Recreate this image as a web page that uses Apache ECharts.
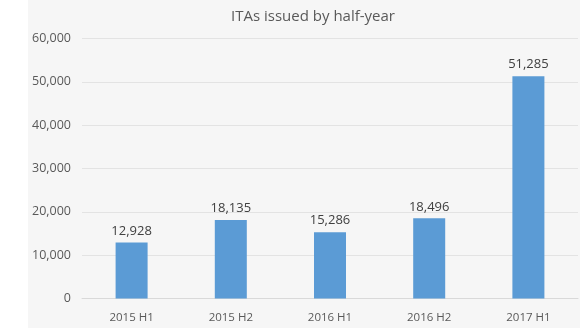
<!DOCTYPE html>
<html><head><meta charset="utf-8">
<script src="https://cdn.jsdelivr.net/npm/echarts@6/dist/echarts.min.js"></script>
<style>html,body{margin:0;padding:0;background:#fff}#c{width:580px;height:336px}</style>
</head><body><div id="c"></div>
<script>
const categories = ['2015 H1','2015 H2','2016 H1','2016 H2','2017 H1'];
const itas = [12928, 18135, 15286, 18496, 51285];
const yTicks = [0, 10000, 20000, 30000, 40000, 50000, 60000];

const fmt = v => v.toLocaleString('en-US');
const chart = echarts.init(document.getElementById('c'), null, {renderer:'canvas'});
chart.setOption({
  animation: false,
  backgroundColor: '#ffffff',
  textStyle: {fontFamily: 'Open Sans'},
  graphic: [{type:'rect', z:-10, silent:true, shape:{x:28, y:0, width:552, height:328}, style:{fill:'#f6f6f6'}}],
  title: {text:'ITAs issued by half-year', left:308, textAlign:'center', top:4,
    textStyle:{fontSize:15, fontWeight:'normal', color:'#595959', fontFamily:'Open Sans'}},
  grid: {left:82, right:2, top:38.5, bottom:37.5},
  xAxis: {type:'category', data:categories,
    axisLine:{show:true, lineStyle:{color:'#d9d9d9'}}, axisTick:{show:false},
    axisLabel:{color:'#595959', fontSize:11.5, margin:13}},
  yAxis: {type:'value', min:yTicks[0], max:yTicks[yTicks.length-1], interval:10000,
    axisLine:{show:false}, axisTick:{show:false},
    splitLine:{lineStyle:{color:'#e3e3e3'}},
    axisLabel:{color:'#595959', fontSize:12.5, margin:11, formatter: v => fmt(v)}},
  series: [{type:'bar', data:itas, barWidth:32,
    itemStyle:{color:'#5b9bd5'},
    label:{show:true, position:'top', distance:5, color:'#404040', fontSize:13,
      formatter: p => fmt(p.value)}}]
});
</script></body></html>
